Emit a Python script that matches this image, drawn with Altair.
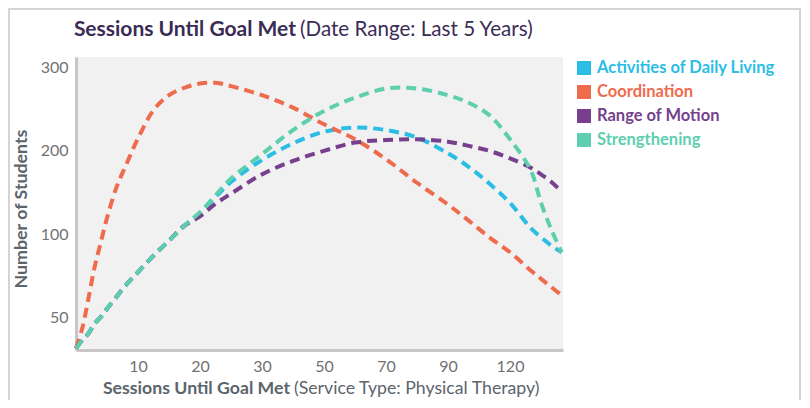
import altair as alt
import pandas as pd

# ---- data ----
sessions = [0, 1, 2, 3, 4, 5, 6.5, 8, 10, 12.5, 15, 17.5, 20, 22.5, 25, 30, 40, 50,
            60, 70, 80, 90, 100, 110, 120, 130, 135, 140, 145]
series_names = ["Activities of Daily Living", "Coordination", "Range of Motion", "Strengthening"]
activities = [31, 36, 40, 46, 50, 55, 62, 69, 77, 87, 96, 110, 125, 144, 162, 188, 208, 222,
              227, 224, 215, 196, 180, 160, 137, 107, 98, 93, 89]
coordination = [31, 43, 61, 80, 95, 119, 155, 181, 214, 248, 266, 275, 280, 281, 277, 266, 251, 231,
                213, 189, 161, 135, 116, 98, 89, 78, 73, 68, 63]
range_of_motion = [31, 36, 40, 46, 50, 55, 62, 69, 77, 87, 96, 110, 121, 136, 148, 171, 187, 199,
                   209, 212, 213, 210, 205, 199, 190, 179, 171, 162, 150]
strengthening = [31, 36, 40, 46, 50, 55, 62, 69, 77, 87, 96, 110, 126, 146, 166, 195, 224, 247,
                 263, 274, 274, 266, 257, 242, 213, 176, 137, 105, 89]
colors = ["#2bbde4", "#ef6b4d", "#773f8d", "#5ecfae"]
x_ticks = [10, 20, 30, 50, 70, 90, 120]
y_ticks = [50, 100, 200, 300]

rows = []
for name, vals in zip(series_names, [activities, coordination, range_of_motion, strengthening]):
    for s, v in zip(sessions, vals):
        rows.append({"series": name, "sessions": s, "students": v})
df = pd.DataFrame(rows)
legend_df = pd.DataFrame({"series": series_names})

W, H = 487, 293
FONT = "Lato"
AXIS_TXT = "#727272"
TITLE_GRAY = "#5c646c"

color_scale = alt.Scale(domain=series_names, range=colors)
x_scale = alt.Scale(domain=[0, 10, 20, 30, 50, 70, 90, 120, 145.6],
                    range=[0, 62, 124, 186, 248, 310, 372, 434, 487], nice=False, zero=False)
y_scale = alt.Scale(domain=[30, 50, 100, 200, 300, 312],
                    range=[293, 260, 177, 93, 10, 0], nice=False, zero=False)

lines = alt.Chart(df).mark_line(
    strokeWidth=4, strokeDash=[10, 6], interpolate="catmull-rom"
).encode(
    x=alt.X("sessions:Q", scale=x_scale,
            axis=alt.Axis(values=x_ticks, title=None, grid=False, ticks=False,
                          domainColor="#c6c6c6", domainWidth=3, labelColor=AXIS_TXT,
                          labelFontSize=16, labelFont=FONT, labelPadding=8, labelFlush=False)),
    y=alt.Y("students:Q", scale=y_scale,
            axis=alt.Axis(values=y_ticks, title=None, grid=False, ticks=False,
                          domainColor="#c6c6c6", domainWidth=3, labelColor=AXIS_TXT,
                          labelFontSize=16, labelFont=FONT, labelPadding=8)),
    color=alt.Color("series:N", scale=color_scale, legend=None),
)

leg_y = alt.Y("series:N", axis=None,
              scale=alt.Scale(type="point", domain=series_names, range=[11, 83], padding=0))
leg_squares = alt.Chart(legend_df).mark_square(size=196, filled=True, opacity=1).encode(
    x=alt.value(508), y=leg_y,
    color=alt.Color("series:N", scale=color_scale, legend=None),
)
leg_labels = alt.Chart(legend_df).mark_text(
    align="left", baseline="middle", fontSize=16.5, fontWeight="bold", font=FONT
).encode(
    x=alt.value(521), y=leg_y, text="series:N",
    color=alt.Color("series:N", scale=color_scale, legend=None),
)


def label(txt, x, y, size, weight, color, align, angle=0):
    return alt.Chart(pd.DataFrame({"t": [txt]})).mark_text(
        align=align, baseline="middle", fontSize=size, fontWeight=weight,
        font=FONT, color=color, angle=angle
    ).encode(x=alt.value(x), y=alt.value(y), text="t:N")


title_bold = label("Sessions Until Goal Met", 220, -27, 21, "bold", "#3b2c56", "right")
title_reg = label("(Date Range: Last 5 Years)", 224, -27, 20.6, "normal", "#3b2c56", "left")
xt_bold = label("Sessions Until Goal Met", 214, 332, 17.7, "bold", TITLE_GRAY, "right")
xt_reg = label("(Service Type: Physical Therapy)", 218, 332, 17.7, "normal", TITLE_GRAY, "left")
yt = label("Number of Students", -54, 152, 17.8, "bold", TITLE_GRAY, "center", angle=270)

frame = alt.Chart(pd.DataFrame({"a": [0]})).mark_rect(
    filled=False, stroke="#d4d4d4", strokeWidth=2
).encode(x=alt.value(-67), x2=alt.value(724), y=alt.value(-48), y2=alt.value(420))

chart = alt.layer(
    frame, lines, leg_squares, leg_labels, title_bold, title_reg, xt_bold, xt_reg, yt
).resolve_scale(y="independent").properties(
    width=W, height=H,
    autosize=alt.AutoSizeParams(type="none"),
    padding={"left": 68, "top": 49, "right": 239, "bottom": 50},
    background="white",
).configure_view(fill="#f1f1f1", stroke=None)

chart.save("out.html", embed_options={"renderer": "svg", "actions": False})
